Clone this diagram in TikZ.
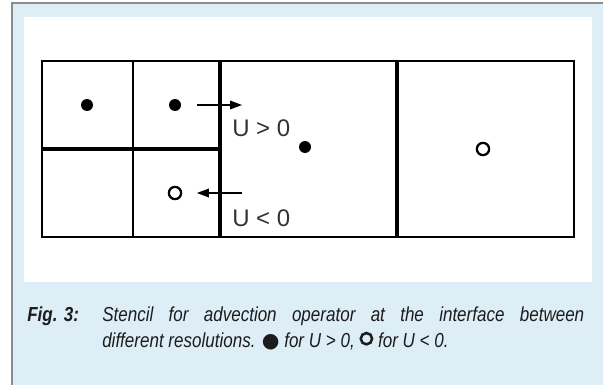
\documentclass[tikz,border=0pt]{standalone}
\usepackage{fontspec}
\setsansfont{Liberation Sans}
\newfontfamily\capfont[FakeStretch=0.84]{Liberation Sans}
\newfontfamily\symfont{DejaVu Sans}
\usetikzlibrary{arrows.meta, positioning}
\definecolor{panelblue}{HTML}{DDEEF7}
\definecolor{framegray}{HTML}{8C8C8C}
\definecolor{labelgray}{HTML}{333333}
\definecolor{captiongray}{HTML}{1C1C1C}

\begin{document}
\begin{tikzpicture}[
    x=0.75pt, y=-0.75pt,
    cellline/.style={line width=1.5pt},
    interface/.style={line width=2.6pt},
    fulldot/.style={circle, fill=black, inner sep=0pt, minimum size=9pt},
    opendot/.style={circle, draw=black, line width=1.7pt, fill=white,
                    inner sep=0pt, minimum size=9.2pt},
    flow/.style={-{Triangle[length=9pt, width=6.5pt]}, line width=1pt},
    ulabel/.style={font=\sffamily\fontsize{18}{21}\selectfont, text=labelgray,
                   inner sep=0pt, anchor=west},
    caption/.style={font=\capfont\itshape\fontsize{15.2}{19.5}\selectfont,
                    text=captiongray, inner sep=0pt}
]
\useasboundingbox (0,0) rectangle (603,385);

% Frame and panel
\fill[panelblue] (12,3) rectangle (603,385);
\draw[framegray, line width=1.6pt] (12,385) -- (12,3) -- (603,3);
\fill[white] (24,17) rectangle (592,282);

% Grid
\draw[cellline] (42,61) rectangle (574,237);
\draw[cellline] (133,61) -- (133,237);
\draw[interface] (220,61) -- (220,237);
\draw[interface] (397,61) -- (397,237);
\draw[interface] (42,149) -- (220,149);

% Cell centres
\node[fulldot] at (87,105) (fine1) {};
\node[fulldot] at (175,105) (fine2) {};
\node[fulldot] at (305,147) (coarse1) {};
\node[opendot] at (175,193) (fine4) {};
\node[opendot] at (483,149) (coarse2) {};

% Fluxes
\coordinate (tipR) at (242,105);
\coordinate (tailL) at (242,193);
\draw[flow] ([xshift=12pt]fine2.east) -- (tipR);
\draw[flow] (tailL) -- ([xshift=11pt]fine4.east);

\node[ulabel] at (232,128) (upos) {U > 0};
\node[ulabel] at (232,218) (uneg) {U < 0};

% Caption
\node[caption, anchor=base west] at (27,321) (figtag) {\bfseries Fig. 3:};
\node[caption, anchor=base west, text width=361.5pt, align=justify] at (102,321) (captext)
    {Stencil for advection operator at the interface between\linebreak
     different resolutions. {\symfont\upshape ●} for U > 0,\
     \tikz[baseline=-0.05em]\draw[line width=1.9pt] (0,0.36em) circle (0.28em);\ for U < 0.};

\end{tikzpicture}
\end{document}
